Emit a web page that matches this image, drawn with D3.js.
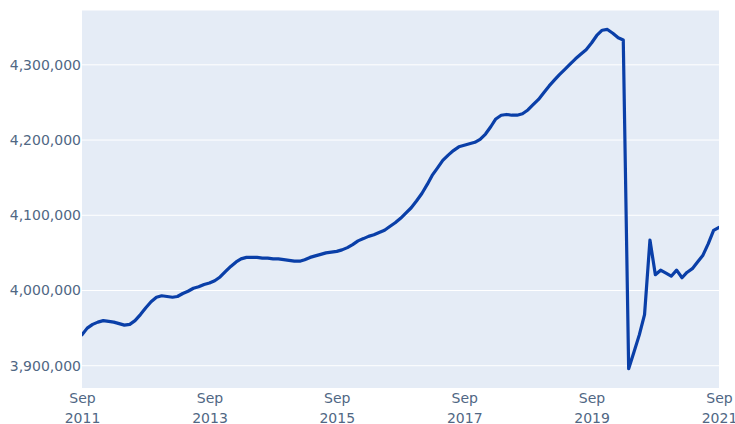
<!DOCTYPE html>
<html>
<head>
<meta charset="utf-8">
<script src="https://cdn.jsdelivr.net/npm/d3@7"></script>
<style>
  html, body { margin: 0; padding: 0; background: #fff; overflow: hidden; }
  svg { display: block; }
</style>
</head>
<body>
<svg id="chart" width="735" height="424"></svg>
<script>
// Monthly values, Sep 2011 .. Sep 2021
const startMonth = "2011-09-01";
const values = [
  3941000, 3950000, 3955000, 3958000, 3960000, 3959000, 3958000, 3956000, 3954000, 3955000,
  3960000, 3968000, 3977000, 3985000, 3991000, 3993000, 3992000, 3991000, 3992000, 3996000,
  3999000, 4003000, 4005000, 4008000, 4010000, 4013000, 4018000, 4025000, 4032000, 4038000,
  4042000, 4044000, 4044000, 4044000, 4043000, 4043000, 4042000, 4042000, 4041000, 4040000,
  4039000, 4039000, 4041000, 4044000, 4046000, 4048000, 4050000, 4051000, 4052000, 4054000,
  4057000, 4061000, 4066000, 4069000, 4072000, 4074000, 4077000, 4080000, 4085000, 4090000,
  4096000, 4103000, 4110000, 4119000, 4129000, 4141000, 4153000, 4163000, 4173000, 4180000,
  4186000, 4191000, 4193000, 4195000, 4197000, 4201000, 4208000, 4218000, 4228000, 4233000,
  4234000, 4233000, 4233000, 4235000, 4240000, 4247000, 4254000, 4263000, 4272000, 4280000,
  4287000, 4294000, 4301000, 4308000, 4314000, 4320000, 4329000, 4339000, 4346000, 4347000,
  4342000, 4336000, 4333000, 3896000, 3918000, 3941000, 3968000, 4067000, 4021000, 4027000,
  4023000, 4019000, 4027000, 4017000, 4024000, 4029000, 4038000, 4047000, 4062000, 4080000,
  4084000
];
const yTicks = [3900000, 4000000, 4100000, 4200000, 4300000];
const xTickDates = ["2011-09-01", "2013-09-01", "2015-09-01", "2017-09-01", "2019-09-01", "2021-09-01"];
const yDomain = [3870400, 4372200];

const parse = d3.utcParse("%Y-%m-%d");
const start = parse(startMonth);
const data = values.map((v, i) => ({ date: d3.utcMonth.offset(start, i), value: v }));

const W = 735, H = 424;
const margin = { left: 82, right: 16, top: 10.5, bottom: 36 };
const svg = d3.select("#chart");

const x = d3.scaleUtc()
  .domain([start, d3.utcMonth.offset(start, values.length - 1)])
  .range([margin.left, W - margin.right]);
const y = d3.scaleLinear()
  .domain(yDomain)
  .range([H - margin.bottom, margin.top]);

svg.append("rect")
  .attr("x", margin.left).attr("y", margin.top)
  .attr("width", W - margin.left - margin.right)
  .attr("height", H - margin.top - margin.bottom)
  .attr("fill", "#E5ECF6");

// gridlines
svg.append("g")
  .selectAll("line")
  .data(yTicks)
  .join("line")
  .attr("x1", margin.left).attr("x2", W - margin.right)
  .attr("y1", d => y(d)).attr("y2", d => y(d))
  .attr("stroke", "#fff").attr("stroke-width", 1);

const fmt = d3.format(",");
const font = "'DejaVu Sans', Verdana, sans-serif";
const fs = "14px";

// y axis labels
const yAxis = d3.axisLeft(y).tickValues(yTicks).tickFormat(fmt).tickSize(0).tickPadding(1);
const gy = svg.append("g").attr("transform", `translate(${margin.left},0)`).call(yAxis);
gy.select(".domain").remove();
gy.selectAll("text").attr("fill", "#506784").style("font-family", font).style("font-size", fs);

// x axis labels (two lines)
const xAxis = d3.axisBottom(x).tickValues(xTickDates.map(parse)).tickSize(0).tickFormat("");
const gx = svg.append("g").attr("transform", `translate(0,${H - margin.bottom})`).call(xAxis);
gx.select(".domain").remove();
gx.selectAll(".tick").each(function(d) {
  const t = d3.select(this).append("text")
    .attr("fill", "#506784")
    .attr("text-anchor", "middle")
    .style("font-family", font).style("font-size", fs);
  t.append("tspan").attr("x", 0).attr("y", 15).text(d3.utcFormat("%b")(d));
  t.append("tspan").attr("x", 0).attr("y", 34.5).text(d3.utcFormat("%Y")(d));
});

// clip
svg.append("clipPath").attr("id", "clip")
  .append("rect")
  .attr("x", margin.left).attr("y", margin.top)
  .attr("width", W - margin.left - margin.right)
  .attr("height", H - margin.top - margin.bottom);

const line = d3.line().x(d => x(d.date)).y(d => y(d.value));
svg.append("path")
  .datum(data)
  .attr("clip-path", "url(#clip)")
  .attr("fill", "none")
  .attr("stroke", "#0A3FA8")
  .attr("stroke-width", 3.2)
  .attr("stroke-linejoin", "round")
  .attr("stroke-linecap", "round")
  .attr("d", line);
</script>
</body>
</html>
